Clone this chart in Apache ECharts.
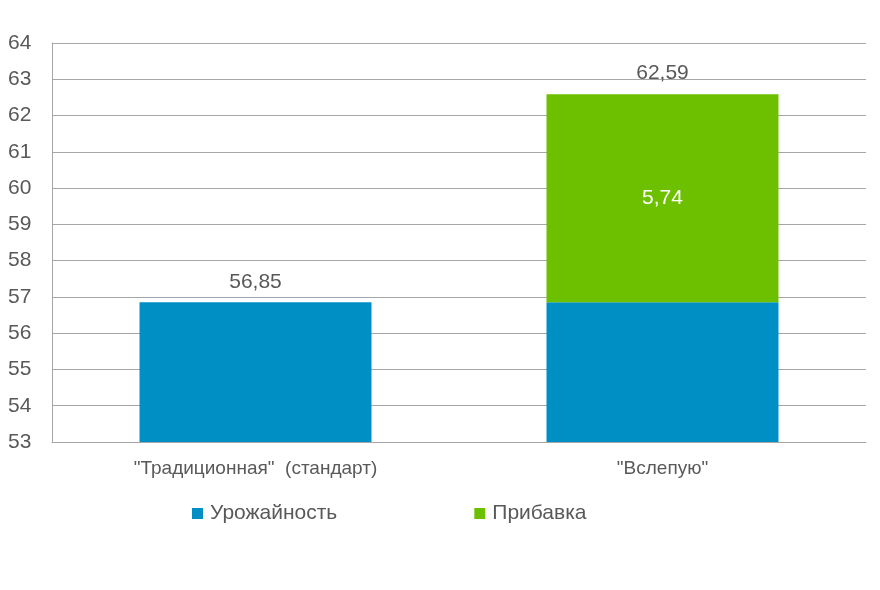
<!DOCTYPE html>
<html>
<head>
<meta charset="utf-8">
<script src="https://cdn.jsdelivr.net/npm/echarts@6/dist/echarts.min.js"></script>
<style>
html, body { margin: 0; padding: 0; background: #fff; }
#chart { width: 880px; height: 590px; }
</style>
</head>
<body>
<div id="chart"></div>
<script>
var categories = ['"Традиционная"  (стандарт)', '"Вслепую"'];
var yieldValues = [56.85, 56.85];
var bonusValues = ['-', 5.74];
var yTicks = { min: 53, max: 64, interval: 1 };

function fmt(v) {
	return String(v.toFixed(2)).replace('.', ',');
}

var totals = categories.map(function (c, i) {
	var b = bonusValues[i] === '-' ? 0 : bonusValues[i];
	return Math.round((yieldValues[i] + b) * 100) / 100;
});

var font = '"Liberation Sans Narrow", "Liberation Sans", Arial, sans-serif';

var chart = echarts.init(document.getElementById('chart'));
chart.setOption({
	animation: false,
	textStyle: { fontFamily: font },
	grid: { left: 52, right: 14, top: 43, bottom: 148 },
	legend: {
		top: 498,
		left: 187,
		itemWidth: 11,
		itemHeight: 11,
		itemGap: 137,
		icon: 'rect',
		textStyle: { fontFamily: font, fontSize: 21, color: '#595959', padding: [0, 0, 0, 2] },
		data: ['Урожайность', 'Прибавка']
	},
	xAxis: {
		type: 'category',
		data: categories,
		axisLine: { lineStyle: { color: '#a6a6a6', width: 1 } },
		axisTick: { show: false },
		axisLabel: { fontSize: 19, color: '#595959', margin: 17, fontFamily: font }
	},
	yAxis: {
		type: 'value',
		min: yTicks.min,
		max: yTicks.max,
		interval: yTicks.interval,
		axisLine: { show: true, lineStyle: { color: '#a6a6a6' } },
		splitLine: { lineStyle: { color: '#a6a6a6' } },
		axisLabel: { fontSize: 21, color: '#595959', margin: 44, align: 'left', fontFamily: font }
	},
	series: [
		{
			name: 'Урожайность',
			type: 'bar',
			stack: 'total',
			barWidth: '57%',
			itemStyle: { color: '#008fc5' },
			data: yieldValues.map(function (v, i) {
				return i === 0
					? { value: v, label: { show: true, position: 'top', distance: 10, fontSize: 21, color: '#595959', formatter: function (p) { return fmt(p.value); } } }
					: v;
			})
		},
		{
			name: 'Прибавка',
			type: 'bar',
			stack: 'total',
			itemStyle: { color: '#6cc000' },
			label: {
				show: true,
				position: 'inside',
				fontSize: 21,
				color: '#ffffff',
				formatter: function (p) { return fmt(p.value); }
			},
			data: bonusValues
		},
		{
			name: 'total',
			type: 'bar',
			stack: 'total',
			itemStyle: { color: 'transparent' },
			label: {
				show: true,
				position: 'top',
				distance: 10,
				fontSize: 21,
				color: '#595959',
				formatter: function (p) { return p.dataIndex === 0 ? '' : fmt(totals[p.dataIndex]); }
			},
			data: categories.map(function () { return 0; })
		}
	]
});
</script>
</body>
</html>
